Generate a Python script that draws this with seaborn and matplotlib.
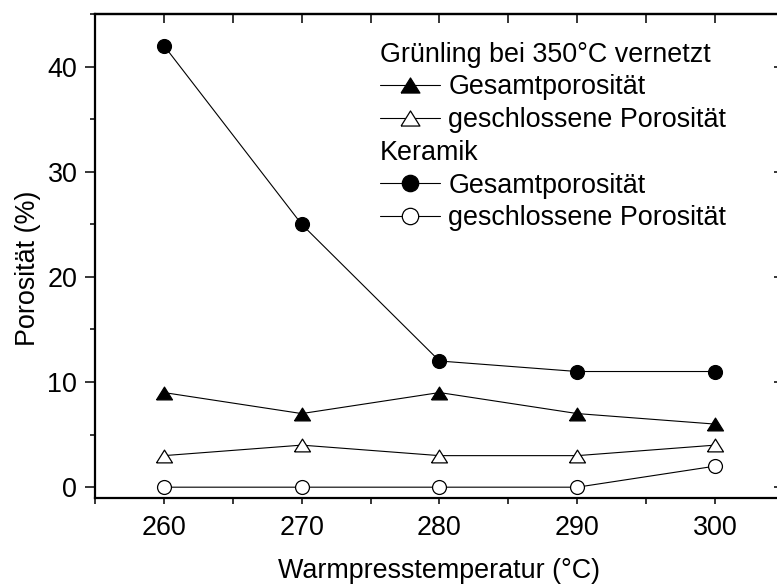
import matplotlib
matplotlib.use("Agg")
import matplotlib.pyplot as plt
import matplotlib.text as mtext
from matplotlib.lines import Line2D
from matplotlib.legend_handler import HandlerBase
from matplotlib.ticker import MultipleLocator
import seaborn as sns

# Values
temperatures = [260, 270, 280, 290, 300]
gruen_gesamt = [9, 7, 9, 7, 6]
gruen_geschlossen = [3, 4, 3, 3, 4]
keramik_gesamt = [42, 25, 12, 11, 11]
keramik_geschlossen = [0, 0, 0, 0, 2]

header_gruen = "Grünling bei 350°C vernetzt"
header_keramik = "Keramik"
label_gesamt = "Gesamtporosität"
label_geschlossen = "geschlossene Porosität"
xlabel = "Warmpresstemperatur (°C)"
ylabel = "Porosität (%)"

sns.set_style("ticks")
plt.rcParams["font.family"] = ["Liberation Sans", "DejaVu Sans"]
plt.rcParams.update({
    "font.size": 19.4,
    "text.color": "black",
    "axes.labelcolor": "black",
    "xtick.color": "black",
    "ytick.color": "black",
})

FS = 19.4
SPINE_W = 1.6
TICK_W = 1.1

fig = plt.figure(figsize=(7.77, 5.85), dpi=100)
ax = fig.add_axes([95 / 777, 87.3 / 585, 689 / 777, 483.7 / 585])

# flat triangle marker
tri = [(-1.0, -0.8), (1.0, -0.8), (0.0, 0.8), (-1.0, -0.8)]

common = dict(color="black", linewidth=0.8, markeredgecolor="black",
              markeredgewidth=0.9, ax=ax, legend=False)

TRI_MS, CIRC_MS = 11.5, 10.0
series = [
    (gruen_gesamt, tri, TRI_MS, "black"),
    (gruen_geschlossen, tri, TRI_MS, "white"),
    (keramik_gesamt, "o", CIRC_MS, "black"),
    (keramik_geschlossen, "o", CIRC_MS, "white"),
]
handles = []
for values, mk, ms, face in series:
    sns.lineplot(x=temperatures, y=values, marker=mk, markersize=ms,
                 markerfacecolor=face, **common)
    handles.append(ax.lines[-1])

ax.set_xlim(255, 305)
ax.set_ylim(-1, 45)
ax.xaxis.set_major_locator(MultipleLocator(10))
ax.xaxis.set_minor_locator(MultipleLocator(5))
ax.yaxis.set_major_locator(MultipleLocator(10))
ax.yaxis.set_minor_locator(MultipleLocator(5))

for sp in ax.spines.values():
    sp.set_visible(True)
    sp.set_linewidth(SPINE_W)
    sp.set_color("black")

ax.tick_params(axis="x", which="both", direction="out", length=4.5,
               width=TICK_W, labelsize=FS, pad=8)
ax.tick_params(axis="y", which="major", direction="out", length=7.2,
               width=TICK_W, labelsize=FS, pad=5.5)
ax.tick_params(axis="y", which="minor", direction="out", length=3.8,
               width=TICK_W)

top = ax.secondary_xaxis("top")
top.xaxis.set_major_locator(MultipleLocator(10))
top.xaxis.set_minor_locator(MultipleLocator(5))
top.tick_params(which="both", direction="in", length=6.5, width=TICK_W,
                labeltop=False)
right = ax.secondary_yaxis("right")
right.yaxis.set_major_locator(MultipleLocator(10))
right.yaxis.set_minor_locator(MultipleLocator(5))
right.tick_params(which="major", direction="in", length=7.2, width=TICK_W,
                  labelright=False)
right.tick_params(which="minor", direction="in", length=3.8, width=TICK_W)
for sec in (top, right):
    for sp in sec.spines.values():
        sp.set_linewidth(SPINE_W)

ax.set_xlabel(xlabel, fontsize=FS, labelpad=12.5)
ax.set_ylabel(ylabel, fontsize=FS, labelpad=5)
ax.yaxis.label.set_y(0.475)


class HeaderHandler(HandlerBase):
    """Draws a group heading in place of a legend handle."""

    def __init__(self, text):
        super().__init__()
        self.text = text

    def create_artists(self, legend, orig_handle, xdescent, ydescent,
                       width, height, fontsize, trans):
        t = mtext.Text(-xdescent, 0, self.text, fontsize=fontsize,
                       ha="left", va="baseline", color="black")
        t.set_figure(legend.figure)
        t.set_transform(trans)
        return [t]


h_head1 = Line2D([], [], linestyle="none")
h_head2 = Line2D([], [], linestyle="none")
leg = ax.legend(
    [h_head1, handles[0], handles[1], h_head2, handles[2], handles[3]],
    ["", label_gesamt, label_geschlossen, "", label_gesamt, label_geschlossen],
    handler_map={h_head1: HeaderHandler(header_gruen),
                 h_head2: HeaderHandler(header_keramik)},
    loc="upper left", bbox_to_anchor=(0.414, 0.943), frameon=False,
    fontsize=FS, borderpad=0, borderaxespad=0, handlelength=2.23,
    handletextpad=0.3, labelspacing=0.25,
)
# slightly larger symbols in the key
for lh in leg.legend_handles:
    if isinstance(lh, Line2D):
        lh.set_markersize(lh.get_markersize() * 1.18)

fig.savefig("out.png", dpi=100)
